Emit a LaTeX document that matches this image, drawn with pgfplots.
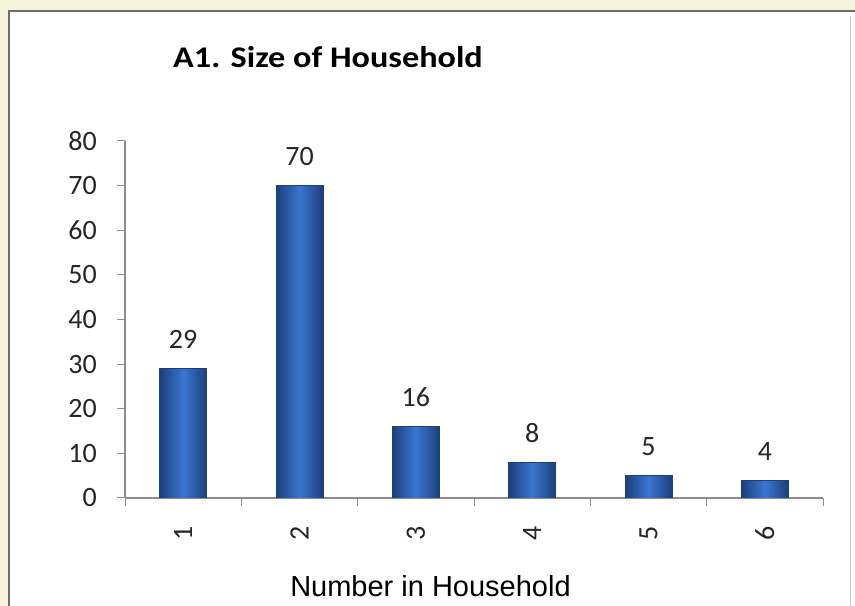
\documentclass[border=0pt]{standalone}
\usepackage{pgfplots}
\pgfplotsset{compat=1.18}
\usepackage{fontspec}
\setmainfont{Carlito}
\newfontfamily\arialf{Liberation Sans}
\definecolor{bgbeige}{HTML}{F5F5DC}
\definecolor{frame}{HTML}{6E6E6E}
\definecolor{axisgray}{HTML}{8C8C8C}
\definecolor{bardark}{HTML}{1C3F7C}
\definecolor{barmid}{HTML}{3A76D0}
\newcommand{\lblfont}{\fontsize{28bp}{30bp}\selectfont}

\begin{document}
\begin{tikzpicture}[x=1bp,y=1bp]
  % page and chart panel
  \fill[bgbeige] (0,0) rectangle (855,606);
  \useasboundingbox (0,0) rectangle (855,606);
  \fill[white] (8,0) rectangle (855,596);
  \draw[frame, line width=2.5bp] (9,0) -- (9,595) -- (855,595);
  \draw[gray!40, line width=1bp] (850,0) -- (850,590);

  \begin{axis}[
      at={(125bp,108bp)}, anchor=south west,
      scale only axis, width=698bp, height=357bp,
      xmin=0.5, xmax=6.5, ymin=0, ymax=80,
      axis x line*=bottom, axis y line*=left,
      axis line style={axisgray, line width=1.2bp, -},
      tick align=outside,
      major tick length=8bp,
      tick style={axisgray, line width=1bp},
      ytick={0,10,...,80},
      xtick={0.5,1.5,...,6.5},
      xticklabels={},
      extra x ticks={1,2,3,4,5,6},
      extra x tick labels={1,2,3,4,5,6},
      extra x tick style={grid=none, major tick length=0pt,
        xticklabel style={yshift=-28bp, rotate=90, anchor=east, inner sep=0pt}},
      /pgf/number format/assume math mode=true,
      ticklabel style={font=\lblfont, text=black!85},
      yticklabel style={anchor=east, inner sep=0pt, xshift=-20bp},
      ybar, bar width=47bp, bar shift=0pt,
      nodes near coords,
      every node near coord/.append style={font=\lblfont, text=black!85, anchor=base, inner sep=0pt, yshift=20bp},
      hhbar/.style={draw=bardark, line width=0.6bp,
        left color=bardark, right color=bardark, middle color=barmid},
    ]
    \addplot[hhbar] coordinates {(1,29)};
    \addplot[hhbar] coordinates {(2,70)};
    \addplot[hhbar] coordinates {(3,16)};
    \addplot[hhbar] coordinates {(4,8)};
    \addplot[hhbar] coordinates {(5,5)};
    \addplot[hhbar] coordinates {(6,4)};
  \end{axis}

  \node[anchor=base west, inner sep=0pt, font=\bfseries\fontsize{30bp}{32bp}\selectfont] at (173,538) {\scalebox{1.14}[1]{A1. Size of Household}};
  \node[anchor=base, inner sep=0pt, font=\arialf\fontsize{29bp}{31bp}\selectfont] at (430.5,9) {Number in Household};
\end{tikzpicture}
\end{document}
